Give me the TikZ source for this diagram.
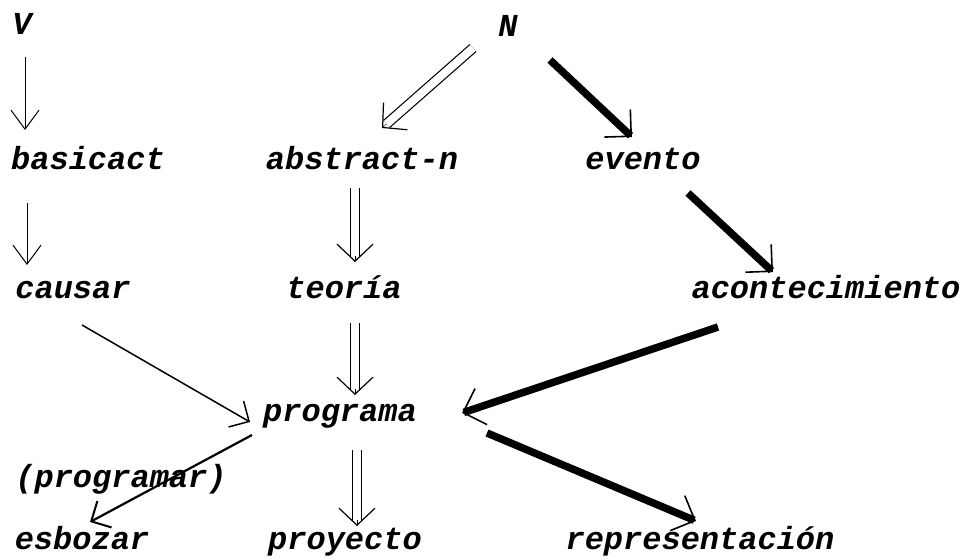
\documentclass[tikz,border=0pt]{standalone}
\usepackage{fontspec}
\usetikzlibrary{arrows.meta}
\newfontfamily\courf{Liberation Mono}
\begin{document}
\begin{tikzpicture}[x=1pt,y=-1pt,
  lbl/.style={anchor=base, inner sep=0pt, font=\courf\bfseries\itshape\fontsize{32}{38}\selectfont},
  caplbl/.style={anchor=base, inner sep=0pt, font=\courf\bfseries\itshape\fontsize{32}{38}\selectfont},
  arrthin/.style={line width=0.8pt, -{Straight Barb[length=19pt,width=28pt,line width=1pt]}},
  arrmed/.style={line width=1.5pt, -{Straight Barb[length=15pt,width=30pt,line width=1.5pt]}},
  arrmedb/.style={line width=2.2pt, -{Straight Barb[length=15pt,width=30pt,line width=2pt]}},
  arrthick/.style={line width=7.5pt, -{Straight Barb[length=19pt,width=38pt,line width=1.6pt]}},
  dbltip/.style={line width=0.4pt, -{Straight Barb[length=17pt,width=36pt,line width=1.2pt]}},
  dblshaft/.style={line width=1.2pt, double=white, double distance=8pt, shorten >=6pt}
]
\useasboundingbox (0,0) rectangle (963,559);
\fill[white] (0,0) rectangle (963,559);

\node[caplbl] (V) at (22,35) {V};
\node[caplbl] (N) at (508,37) {N};
\node[lbl] (basicact) at (88,169) {basicact};
\node[lbl] (abstractn) at (362,169) {abstract-n};
\node[lbl] (evento) at (643,169) {evento};
\node[lbl] (causar) at (73,298) {causar};
\node[lbl] (teoria) at (344,298) {teoría};
\node[lbl] (acont) at (826,298) {acontecimiento};
\node[lbl] (programa) at (340,421) {programa};
\node[lbl] (programar) at (121,487) {(programar)};
\node[lbl] (esbozar) at (82,549) {esbozar};
\node[lbl] (proyecto) at (345,549) {proyecto};
\node[lbl] (repres) at (700,549) {representación};

% thin arrows
\draw[arrthin] ([shift={(3,22)}]V.base) -- ([shift={(-63,-39)}]basicact.base);
\draw[arrthin] ([shift={(-61,34)}]basicact.base) -- ([shift={(-46,-33)}]causar.base);

% double arrows
\draw[dbltip] ([shift={(-35,11)}]N.base) -- ([shift={(20,-41)}]abstractn.base);
\draw[dblshaft] ([shift={(-35,11)}]N.base) -- ([shift={(20,-41)}]abstractn.base);
\draw[dbltip] ([shift={(-7,19)}]abstractn.base) -- ([shift={(11,-36)}]teoria.base);
\draw[dblshaft] ([shift={(-7,19)}]abstractn.base) -- ([shift={(11,-36)}]teoria.base);
\draw[dbltip] ([shift={(11,25)}]teoria.base) -- ([shift={(15,-26)}]programa.base);
\draw[dblshaft] ([shift={(11,25)}]teoria.base) -- ([shift={(15,-26)}]programa.base);
\draw[dbltip] ([shift={(17,29)}]programa.base) -- ([shift={(12,-23)}]proyecto.base);
\draw[dblshaft] ([shift={(17,29)}]programa.base) -- ([shift={(12,-23)}]proyecto.base);

% thick arrows
\draw[arrthick] ([shift={(42,23)}]N.base) -- ([shift={(-11,-32)}]evento.base);
\draw[arrthick] ([shift={(45,24)}]evento.base) -- ([shift={(-53,-26)}]acont.base);
\draw[arrthick] ([shift={(-108,29)}]acont.base) -- ([shift={(122,-8)}]programa.base);
\draw[arrthick] ([shift={(147,12)}]programa.base) -- ([shift={(-4,-28)}]repres.base);

% medium arrows
\draw[arrmed] ([shift={(9,27)}]causar.base) -- ([shift={(-90,1)}]programa.base);
\draw[arrmedb] ([shift={(-88,14)}]programa.base) -- ([shift={(8,-27)}]esbozar.base);
\end{tikzpicture}
\end{document}
